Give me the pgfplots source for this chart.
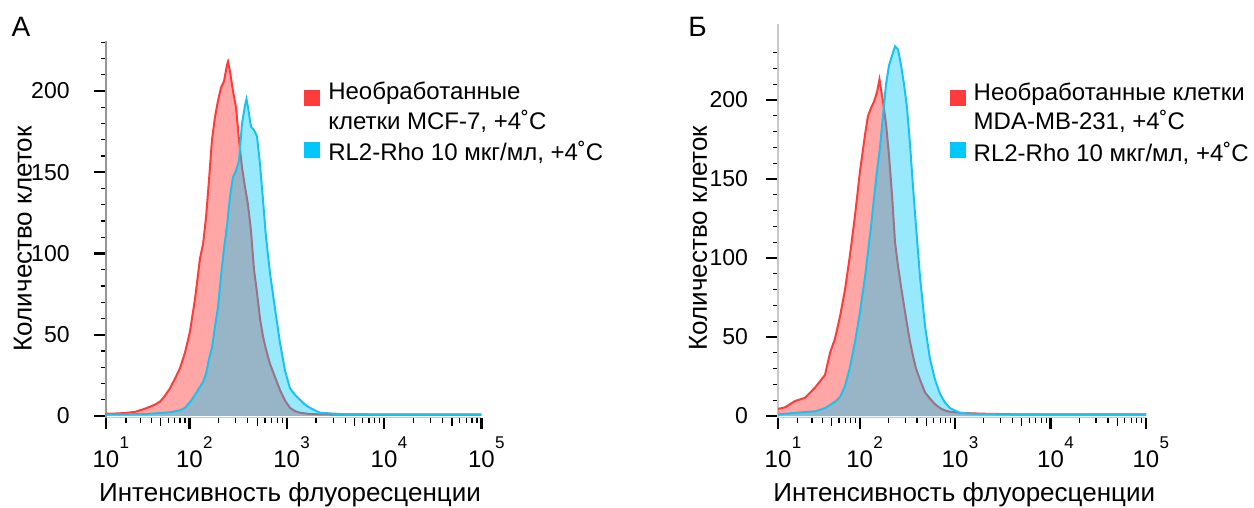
\documentclass[border=0pt]{standalone}
\usepackage{fontspec}
\setmainfont{Liberation Sans}
\usepackage{pgfplots}
\pgfplotsset{compat=1.18}
\usepackage{pgfplotstable}

\definecolor{cRed}{RGB}{255,59,59}
\definecolor{cBlue}{RGB}{0,200,250}
\definecolor{cBlueLine}{RGB}{25,195,240}
\definecolor{axgray}{RGB}{150,150,150}
\definecolor{axlight}{RGB}{200,200,200}

\pgfplotstableread{
I N
10 1.5
14.09 1.5
19.39 1.8
25.78 2.5
33.62 4.5
43.35 7
49.08 8.8
55.50 12.5
62.70 17
70.77 23
79.83 29.4
90.0 39
101.4 52
114.3 72
128.8 97
138.6 106
148.5 122
159.4 145
171.2 170
183.8 184
197.4 194
211.9 202
227.5 206
244.3 216
250.1 218
262.2 212
281.5 200
302.2 190
324.4 170
348.3 153
373.9 141
401.4 130
430.9 114
462.6 90
496.6 76
533.1 60
572.2 49
614.3 41
675.2 32
760 24
855 16
962.7 9.5
1083 5
1219 3
1372 2
1738 1.2
2200 1
3530 0.8
9087 0.8
29610 0.8
100000 0.8
}\redA

\pgfplotstableread{
I N
10 1
19.39 1
33.62 1.2
49.08 1.8
62.70 2.3
79.83 3.5
90.0 5
101.4 8.5
114.3 13
128.8 18
138.6 21
148.5 26
159.4 35
171.2 42
183.8 55
197.4 67
211.9 86
227.5 103
244.3 117
262.2 135
281.5 147
302.2 151
324.4 157
348.3 180
373.9 191
387.5 195
401.4 190
430.9 178
462.6 176
496.6 172
533.1 155
572.2 133
614.3 110
675.2 88
760 66
855 45
962.7 28
1083 17
1219 13
1372 10
1544 7
1738 5
2200 2
3530 1.2
9087 1
100000 1
}\blueA

\pgfplotstableread{
I N
10 4.5
13.2 5.5
18.45 9.5
24.78 11.5
32.56 18
42.24 26
47.96 40
54.38 49
61.59 63
69.70 80
78.83 102
89.10 127
100.67 155
113.7 178
122.3 190
131.6 195
141.5 199
152.1 205
161.6 213
175.9 199
189.2 185
203.4 165
218.7 140
235.2 110
252.9 95
271.9 82
292.3 70
314.3 58
337.8 47
363.2 38
390.5 30
430 23
485.1 15
547.3 11
617.6 7.5
696.7 5
786 3.5
886.9 2.7
1128 2
1828 1.5
4797 1
100000 1
}\redB

\pgfplotstableread{
I N
10 1
18.45 2
32.56 3
42.24 5
47.96 7
54.38 9
61.59 12
69.70 19
78.83 31
89.10 47
100.67 66
113.7 88
122.3 104
131.6 120
141.5 138
152.1 155
163.6 170
175.9 190
189.2 210
203.4 222
218.7 228
235.2 234
252.9 232
271.9 222
292.3 210
314.3 195
337.8 172
363.2 145
390.5 120
430 88
485.1 57
547.3 36
617.6 23
696.7 14
786 8.5
886.9 5
1128 2
1828 1.2
4797 1
100000 1
}\blueB

\newcommand{\tl}[1]{10\rlap{\hspace{0.2pt}\raisebox{9.6pt}{\fontsize{8.5}{9}\selectfont #1}}}

\pgfplotsset{
  asinh x/.style={
    x coord trafo/.code={\begingroup\pgfkeys{/pgf/fpu=true,/pgf/fpu/output format=fixed}\pgfmathparse{ln(##1/15+sqrt((##1/15)^2+1))}\pgfmathsmuggle\pgfmathresult\endgroup},
  },
  myax/.style={
    scale only axis, anchor=south west,
    axis lines=left, axis line style={-},
    tick align=outside,
    asinh x,
    xmin=10, xmax=100000, ymin=-1,
    xtick={10,100,1000,10000,100000},
    xticklabels={\tl{1},\tl{2},\tl{3},\tl{4},\tl{5}},
    minor xtick={20,30,40,60,70,80,90,200,300,400,600,700,800,900,2000,3000,4000,6000,7000,8000,9000,20000,30000,40000,60000,70000,80000,90000},
    extra x ticks={50,500,5000,50000}, extra x tick labels={},
    extra x tick style={major tick length=4pt, major tick style={line width=0.7pt, black}},
    major tick length=5.8pt, minor tick length=2.5pt,
    major tick style={line width=1.1pt, black},
    minor tick style={line width=0.6pt, black},
    ytick={0,50,100,150,200}, yticklabels={0,50,100,150,200},
    minor ytick={10,20,30,40,60,70,80,90,110,120,130,140,160,170,180,190,210,220,230},
    xticklabel style={font=\fontsize{12}{14}\selectfont, anchor=base, inner sep=0pt, yshift=-19.4pt},
    yticklabel style={font=\fontsize{11.5}{13}\selectfont, anchor=east, inner sep=0pt},
    x axis line style={draw=axlight, line width=0.6pt},
    label style={font=\fontsize{13}{15}\selectfont, inner sep=0pt},
    xlabel={Интенсивность флуоресценции},
    ylabel={Количество клеток},
    legend style={draw=none, fill=none, inner sep=0pt, anchor=north west,
      font=\fontsize{12}{14.7}\selectfont,
      cells={anchor=west, align=left}, row sep=0.6pt,
      /tikz/every odd column/.append style={column sep=2pt}},
  },
}

\begin{document}
\begin{tikzpicture}
\useasboundingbox (0,0) rectangle (627pt,254pt);
\begin{axis}[myax, at={(53pt,45.2pt)}, width=187.75pt, height=188.5pt, ymax=231,
  y axis line style={draw=axgray, line width=0.6pt},
  yticklabel style={xshift=-12.2pt},
  xlabel style={at={(axis description cs:0.49,-0.2228)}, anchor=base},
  ylabel style={at={(axis description cs:-0.198,0.474)}, anchor=base},
  legend style={at={(axis description cs:0.527,0.901)}}]
\addplot[draw=none, fill=cRed, fill opacity=0.45, forget plot] table[x=I,y=N]{\redA} \closedcycle;
\addplot[cRed, line width=1pt, legend image code/.code={\fill[cRed] (0pt,1pt) rectangle (7pt,8pt);}] table[x=I,y=N]{\redA};
\addlegendentry{Необработанные\\клетки MCF-7, +4˚C}
\addplot[draw=none, fill=cBlue, fill opacity=0.4, forget plot] table[x=I,y=N]{\blueA} \closedcycle;
\addplot[cBlueLine, line width=1pt, legend image code/.code={\fill[cBlue] (0pt,-2pt) rectangle (7pt,5pt);}] table[x=I,y=N]{\blueA};
\addlegendentry{RL2-Rho 10 мкг/мл, +4˚C}
\end{axis}

\begin{axis}[myax, at={(389pt,45.2pt)}, width=184pt, height=196.7pt, ymax=248,
  y axis line style={draw=axlight, line width=0.6pt},
  yticklabel style={xshift=-9pt},
  xlabel style={at={(axis description cs:0.506,-0.2135)}, anchor=base},
  ylabel style={at={(axis description cs:-0.193,0.4565)}, anchor=base},
  legend style={at={(axis description cs:0.4655,0.863)}}]
\addplot[draw=none, fill=cRed, fill opacity=0.45, forget plot] table[x=I,y=N]{\redB} \closedcycle;
\addplot[cRed, line width=1pt, legend image code/.code={\fill[cRed] (0pt,1pt) rectangle (7pt,8pt);}] table[x=I,y=N]{\redB};
\addlegendentry{Необработанные клетки\\MDA-MB-231, +4˚C}
\addplot[draw=none, fill=cBlue, fill opacity=0.4, forget plot] table[x=I,y=N]{\blueB} \closedcycle;
\addplot[cBlueLine, line width=1pt, legend image code/.code={\fill[cBlue] (0pt,-2pt) rectangle (7pt,5pt);}] table[x=I,y=N]{\blueB};
\addlegendentry{RL2-Rho 10 мкг/мл, +4˚C}
\end{axis}

\node[anchor=base west, inner sep=0pt, font=\fontsize{14}{16}\selectfont] at (5.6pt,235.65pt) {А};
\node[anchor=base west, inner sep=0pt, font=\fontsize{14}{16}\selectfont] at (344pt,235.65pt) {Б};
\end{tikzpicture}
\end{document}
